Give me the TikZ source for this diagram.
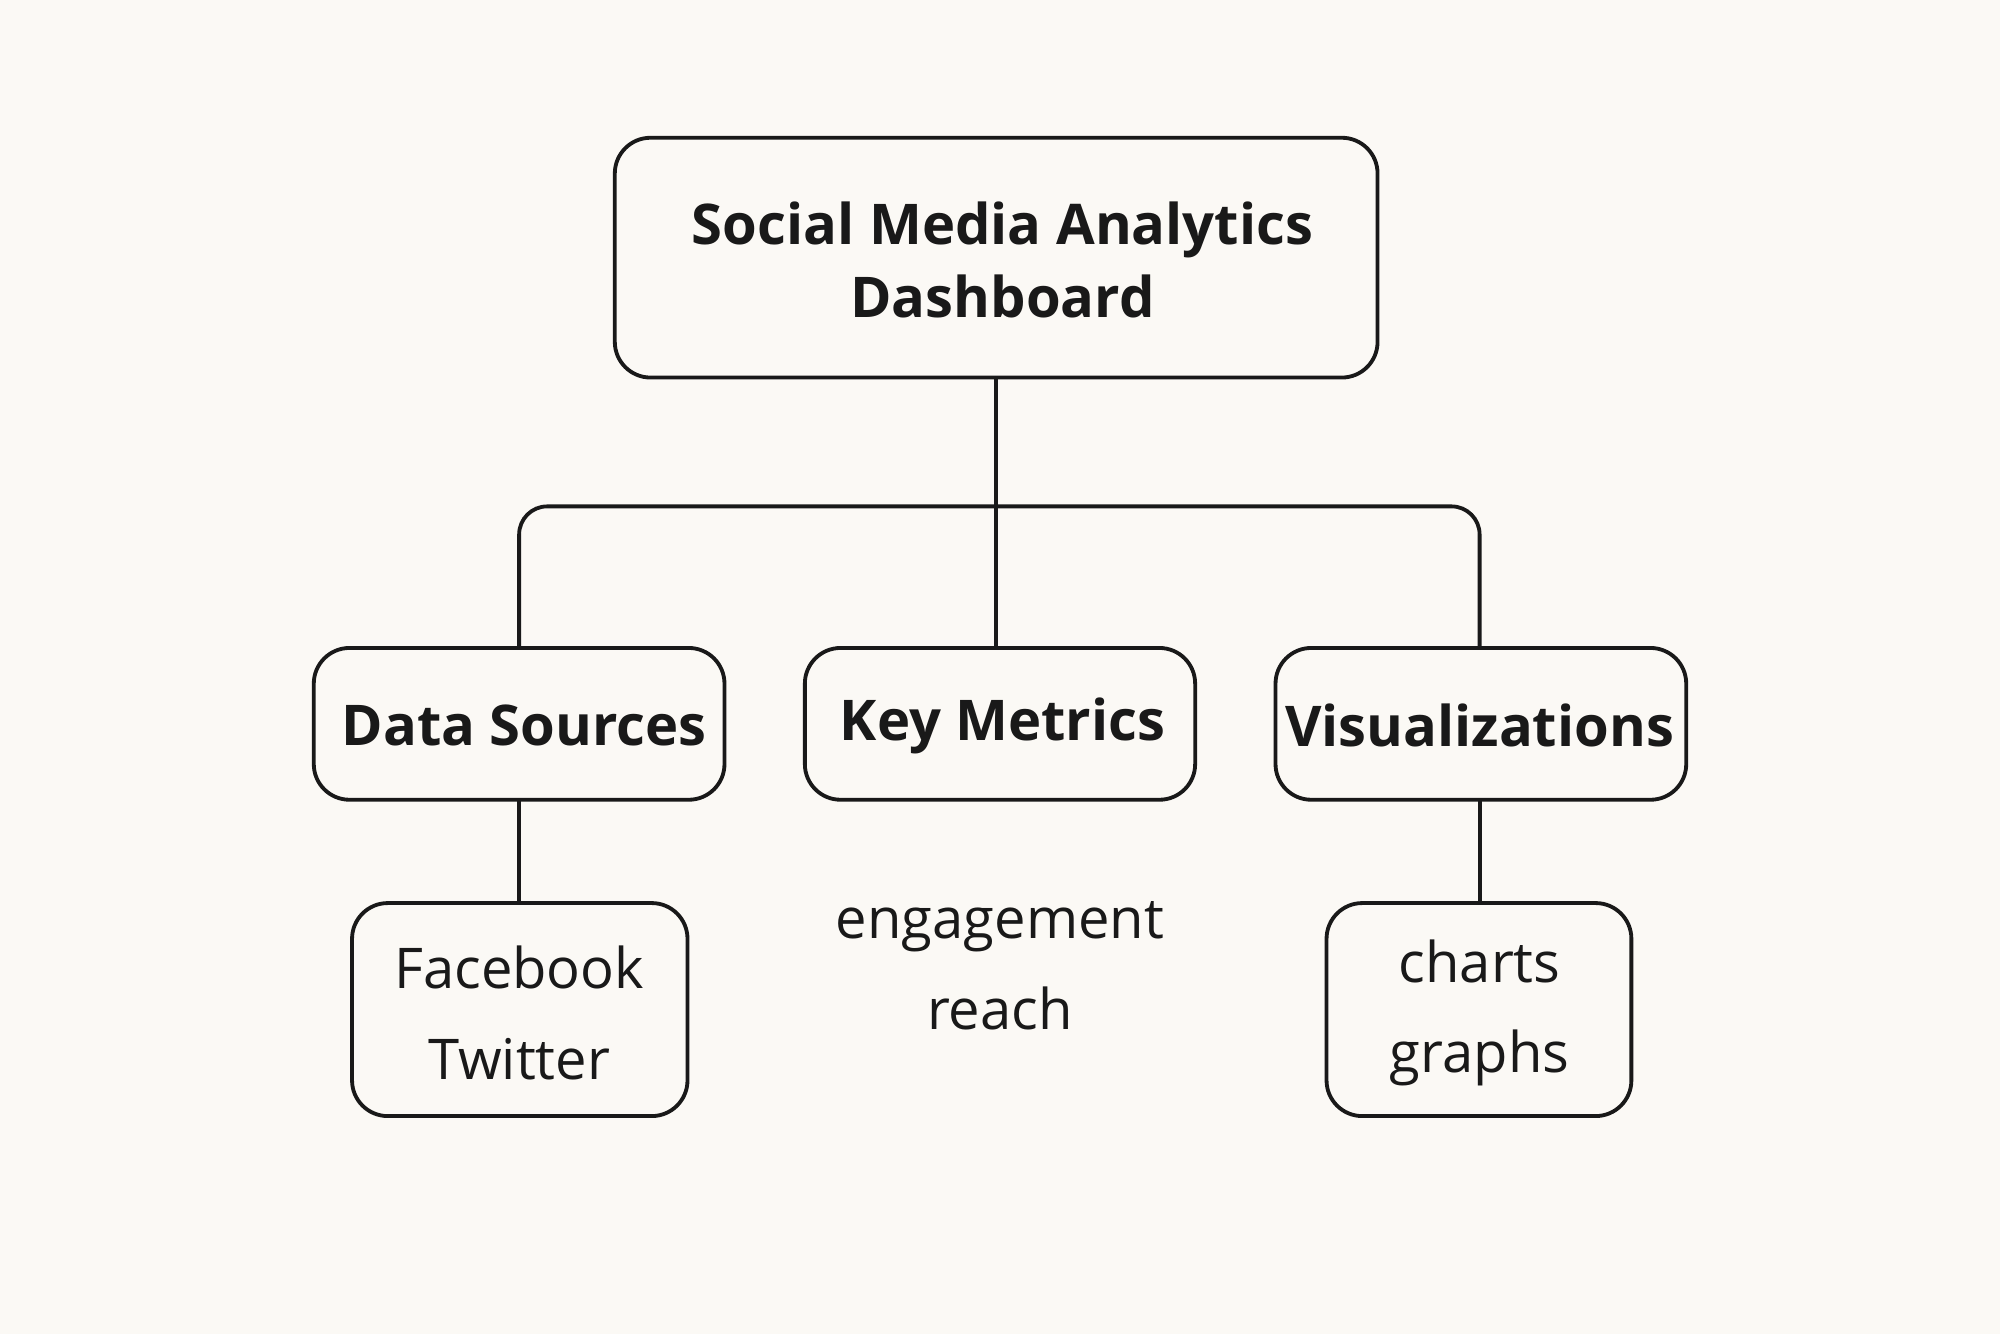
\documentclass[tikz,border=0pt]{standalone}
\usepackage{fontspec}
\setmainfont{Open Sans}
\begin{document}
\begin{tikzpicture}[x=1pt,y=-1pt,
  bx/.style={draw=black!90,line width=3pt,rounded corners=28pt,fill=none},
  ttl/.style={font=\fontsize{44}{57}\selectfont\bfseries,align=center,text=black!90},
  itm/.style={font=\fontsize{44}{71}\selectfont,align=center,text=black!90},
  ln/.style={draw=black!90,line width=3pt}]
\fill[fill={rgb,255:red,251;green,249;blue,245}] (0,0) rectangle (1568,1046);
\useasboundingbox (0,0) rectangle (1568,1046);
\draw[bx] (482,108) rectangle (1080,296);
\node[ttl] (top) at (786,204) {Social Media Analytics\\Dashboard};
\draw[bx] (246,508) rectangle (568,627);
\draw[bx] (631,508) rectangle (937,627);
\draw[bx] (1000,508) rectangle (1322,627);
\node[ttl] (ds) at (411,569) {Data Sources};
\node[ttl] (km) at (786,569) {Key Metrics};
\node[ttl] (vz) at (1160,569) {Visualizations};
\draw[bx] (276,708) rectangle (539,875);
\draw[bx] (1040,708) rectangle (1279,875);
\node[itm] (fb) at (407,794) {Facebook\\Twitter};
\node[itm] (kmi) at (784,757) {engagement\\reach};
\node[itm] (ch) at (1160,794) {charts\\graphs};
\coordinate (t) at (781,296);
\coordinate (j) at (781,397);
\draw[ln] (t) -- (781,508);
\draw[ln,rounded corners=22pt] (407,508) -- (407,397) -- (1160,397) -- (1160,508);
\draw[ln] (407,627) -- (407,708);
\draw[ln] (1160,627) -- (1160,708);
\end{tikzpicture}
\end{document}
